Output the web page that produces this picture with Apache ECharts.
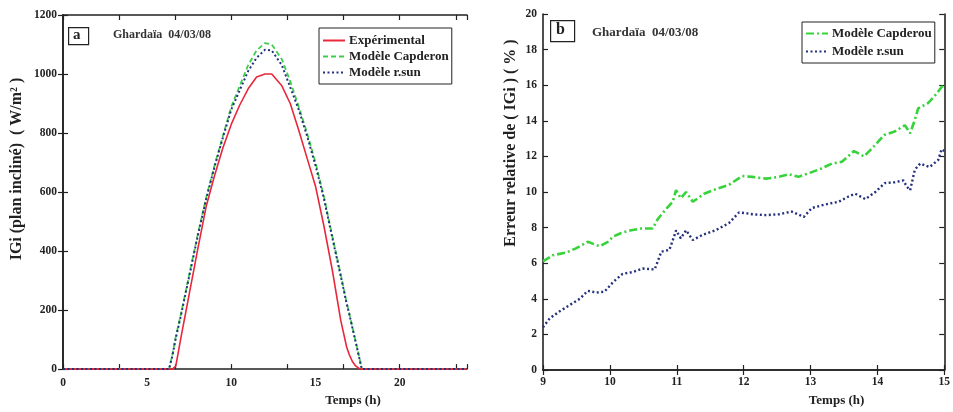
<!DOCTYPE html>
<html>
<head>
<meta charset="utf-8">
<script src="https://cdn.jsdelivr.net/npm/echarts@6/dist/echarts.min.js"></script>
<style>
  html, body { margin: 0; padding: 0; background: #fff; }
  #chart { width: 953px; height: 412px; }
</style>
</head>
<body>
<div id="chart"></div>
<script>
// panel a : irradiation on tilted plane, Ghardaia 04/03/08
var timeA = [0, 6, 6.3, 6.5, 6.7, 7, 7.5, 8, 8.5, 9, 9.5, 10, 10.5, 11, 11.5, 12, 12.4, 12.5,
  13, 13.5, 14, 14.5, 15, 15.5, 16, 16.5, 16.85, 17, 17.2, 17.4, 17.6, 17.75, 18, 24];
var expA = [0, 0, 0, 0, 10, 105, 255, 405, 550, 655, 750, 830, 895, 950, 990, 1000, 1000, 995,
  960, 900, 810, 715, 620, 485, 335, 165, 75, 50, 25, 10, 2, 0, 0, 0];
var capA = [0, 0, 0, 50, 110, 185, 320, 455, 580, 690, 790, 890, 960, 1030, 1080, 1105, 1100, 1095,
  1050, 975, 890, 800, 700, 585, 450, 320, 225, 190, 140, 90, 40, 0, 0, 0];
var sunA = [0, 0, 0, 45, 105, 180, 315, 450, 575, 685, 785, 880, 945, 1010, 1055, 1082, 1080, 1075,
  1030, 955, 880, 790, 690, 578, 445, 315, 222, 188, 138, 88, 38, 0, 0, 0];

// panel b : relative error (%)
var timeCap = [9.0, 9.15, 9.35, 9.5, 9.67, 9.85, 9.97, 10.05, 10.17, 10.32, 10.47, 10.64, 10.72, 10.84,
  10.94, 10.99, 11.06, 11.14, 11.24, 11.41, 11.58, 11.78, 11.98, 12.13, 12.33, 12.53, 12.68, 12.82,
  12.97, 13.15, 13.32, 13.47, 13.65, 13.8, 13.92, 14.1, 14.26, 14.41, 14.49, 14.56, 14.61, 14.76,
  14.88, 14.96, 15.0];
var errCap = [6.1, 6.45, 6.6, 6.85, 7.2, 6.95, 7.2, 7.5, 7.7, 7.85, 7.95, 7.95, 8.5, 9.05,
  9.45, 10.1, 9.65, 10.0, 9.45, 9.9, 10.15, 10.4, 10.9, 10.85, 10.75, 10.85, 11.0, 10.85,
  11.05, 11.3, 11.6, 11.7, 12.3, 12.0, 12.45, 13.2, 13.4, 13.75, 13.3, 14.05, 14.7, 15.0,
  15.5, 15.9, 16.0];
var timeSun = [9.0, 9.1, 9.25, 9.4, 9.55, 9.67, 9.8, 9.92, 10.05, 10.19, 10.34, 10.49, 10.67, 10.77,
  10.89, 10.96, 10.99, 11.06, 11.14, 11.24, 11.39, 11.58, 11.78, 11.93, 12.05, 12.13, 12.33, 12.53,
  12.72, 12.9, 13.02, 13.22, 13.42, 13.57, 13.67, 13.82, 13.97, 14.11, 14.26, 14.39, 14.44, 14.49,
  14.56, 14.64, 14.78, 14.91, 14.96, 15.0];
var errSun = [2.4, 2.9, 3.3, 3.65, 4.0, 4.45, 4.35, 4.4, 4.95, 5.4, 5.5, 5.7, 5.65, 6.65,
  6.75, 7.5, 7.85, 7.4, 7.85, 7.3, 7.6, 7.85, 8.25, 8.85, 8.8, 8.75, 8.7, 8.75,
  8.9, 8.6, 9.1, 9.3, 9.45, 9.75, 9.9, 9.6, 10.0, 10.5, 10.55, 10.65, 10.3, 10.1,
  11.25, 11.6, 11.4, 11.8, 12.4, 12.3];

var serif = 'Liberation Serif';
var ink = '#222';

function pairs(xs, ys) {
  return xs.map(function (x, i) { return [x, ys[i]]; });
}

function tickAxis(extra) {
  var ax = {
    type: 'value',
    axisLine: { show: true, lineStyle: { color: ink, width: 1.6 } },
    axisTick: { show: true, inside: true, length: 5, lineStyle: { color: ink, width: 1.2 } },
    axisLabel: { show: false },
    splitLine: { show: false }
  };
  for (var k in extra) ax[k] = extra[k];
  return ax;
}

var labelStyle = {
  show: true, fontFamily: serif, fontWeight: 'bold', fontSize: 11.5, color: ink, margin: 6,
  formatter: function (v) { return String(v); }
};

var chart = echarts.init(document.getElementById('chart'));

var legendText = { fontFamily: serif, fontWeight: 'bold', fontSize: 13, color: ink, padding: [0, 0, 0, -1] };

var option = {
  backgroundColor: '#fff',
  animation: false,
  grid: [
    { left: 63, top: 15, width: 404, height: 360 },
    { left: 543, top: 14, width: 403, height: 356 }
  ],
  xAxis: [
    tickAxis({ gridIndex: 0, position: 'bottom', min: 0, max: 24, interval: 5,
      axisTick: { show: false },
      axisLabel: { show: true, fontFamily: serif, fontWeight: 'bold', fontSize: 11.5, color: ink, margin: 8, showMaxLabel: false },
      name: 'Temps (h)', nameLocation: 'middle', nameGap: 22,
      nameTextStyle: { fontFamily: serif, fontWeight: 'bold', fontSize: 13, color: ink, padding: [0, 0, 0, 176] } }),
    tickAxis({ gridIndex: 0, position: 'bottom', min: 0, max: 24, interval: 10 / 3, axisLine: { show: false } }),
    tickAxis({ gridIndex: 0, position: 'top', min: 0, max: 24, interval: 10 / 3 }),
    tickAxis({ gridIndex: 1, position: 'bottom', min: 9, max: 15, interval: 1,
      axisLabel: labelStyle,
      name: 'Temps (h)', nameLocation: 'middle', nameGap: 24,
      nameTextStyle: { fontFamily: serif, fontWeight: 'bold', fontSize: 13, color: ink, padding: [0, 0, 0, 186] } }),
    tickAxis({ gridIndex: 1, position: 'top', min: 9, max: 15, interval: 1 })
  ],
  yAxis: [
    tickAxis({ gridIndex: 0, position: 'left', min: 0, max: 1200, interval: 200,
      axisLabel: labelStyle,
      name: 'IGi (plan incliné)  ( W/m² )', nameLocation: 'middle', nameGap: 38, nameRotate: 90,
      nameTextStyle: { fontFamily: serif, fontWeight: 'bold', fontSize: 16, color: ink, padding: [0, 0, 0, 46] } }),
    tickAxis({ gridIndex: 0, position: 'right', min: 0, max: 1200, interval: 200 }),
    tickAxis({ gridIndex: 1, position: 'left', min: 0, max: 20, interval: 2,
      axisLabel: labelStyle,
      name: 'Erreur relative de ( IGi ) ( % )', nameLocation: 'middle', nameGap: 24, nameRotate: 90,
      nameTextStyle: { fontFamily: serif, fontWeight: 'bold', fontSize: 16, color: ink, padding: [0, 0, 0, 98] } }),
    tickAxis({ gridIndex: 1, position: 'right', min: 0, max: 20, interval: 2 })
  ],
  legend: [
    {
      left: 319, top: 28, orient: 'vertical',
      data: ['Expérimental', 'Modèle Capderon', 'Modèle r.sun'],
      borderColor: ink, borderWidth: 1, backgroundColor: '#fff',
      padding: [6, 3, 5, 3], itemGap: 3, itemWidth: 22, itemHeight: 12,
      itemStyle: { opacity: 0 },
      textStyle: legendText
    },
    {
      left: 802, top: 22, orient: 'vertical',
      data: ['Modèle Capderou', 'Modèle r.sun'],
      borderColor: ink, borderWidth: 1, backgroundColor: '#fff',
      padding: [5, 3, 5, 3], itemGap: 5, itemWidth: 22, itemHeight: 12,
      itemStyle: { opacity: 0 },
      textStyle: legendText
    }
  ],
  graphic: [
    { type: 'rect', left: 68, top: 27, shape: { width: 20, height: 17 },
      style: { fill: '#fff', stroke: ink, lineWidth: 1.2 } },
    { type: 'text', left: 73, top: 28, style: { text: 'a', font: 'bold 15px "Liberation Serif"', fill: ink } },
    { type: 'text', left: 113, top: 29, style: { text: 'Ghardaïa  04/03/08', font: 'bold 12px "Liberation Serif"', fill: '#333' } },
    { type: 'rect', left: 550, top: 20, shape: { width: 24, height: 21 },
      style: { fill: '#fff', stroke: ink, lineWidth: 1.2 } },
    { type: 'text', left: 556, top: 22, style: { text: 'b', font: 'bold 16px "Liberation Serif"', fill: ink } },
    { type: 'text', left: 592, top: 26, style: { text: 'Ghardaïa  04/03/08', font: 'bold 13px "Liberation Serif"', fill: '#333' } }
  ],
  series: [
    { name: 'Expérimental', type: 'line', xAxisIndex: 0, yAxisIndex: 0, symbol: 'none',
      color: '#e8283a', lineStyle: { width: 1.6, type: 'solid' }, data: pairs(timeA, expA), z: 3 },
    { name: 'Modèle Capderon', type: 'line', xAxisIndex: 0, yAxisIndex: 0, symbol: 'none',
      color: '#3ccf4a', lineStyle: { width: 1.8, type: [5, 3] }, data: pairs(timeA, capA), z: 2 },
    { name: 'Modèle r.sun', type: 'line', xAxisIndex: 0, yAxisIndex: 0, symbol: 'none',
      color: '#23307e', lineStyle: { width: 2, type: [2, 2.5] }, data: pairs(timeA, sunA), z: 4 },
    { name: 'Modèle Capderou', type: 'line', xAxisIndex: 3, yAxisIndex: 2, symbol: 'none',
      color: '#36d33a', lineStyle: { width: 2.6, type: [8, 3, 2, 3] }, data: pairs(timeCap, errCap) },
    { name: 'Modèle r.sun', type: 'line', xAxisIndex: 3, yAxisIndex: 2, symbol: 'none',
      color: '#23307e', lineStyle: { width: 2.4, type: [2, 2.5] }, data: pairs(timeSun, errSun) }
  ]
};

chart.setOption(option);
</script>
</body>
</html>
